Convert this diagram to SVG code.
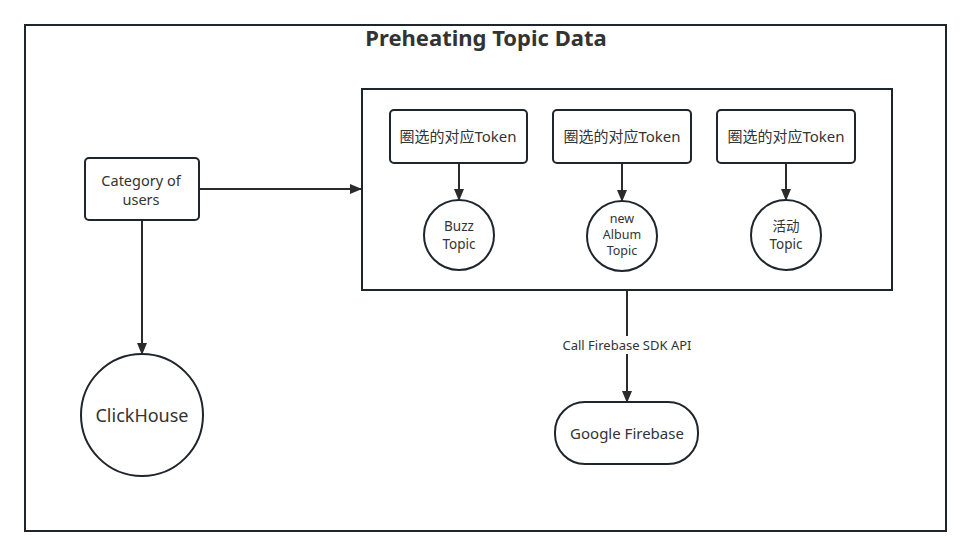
<svg xmlns="http://www.w3.org/2000/svg" width="971" height="557" viewBox="0 0 971 557">
<defs>
<style>
.box{fill:#fff;stroke:#1e252b;stroke-width:2}
.ln{fill:none;stroke:#2b2b2b;stroke-width:2}
.t{font-family:"Noto Sans","Noto Sans CJK SC",sans-serif;fill:#333;text-anchor:middle}
</style>
<marker id="arr" viewBox="0 0 12 12" refX="11" refY="6" markerWidth="12" markerHeight="12" markerUnits="userSpaceOnUse" orient="auto">
<path d="M0,1 L12,6 L0,11 Z" fill="#2b2b2b"/>
</marker>
</defs>
<rect width="971" height="557" fill="#fff"/>
<g id="frame">
<rect x="25" y="25" width="921" height="506" fill="none" stroke="#1e252b" stroke-width="2"/>
<text class="t" x="486" y="46" font-size="22" font-weight="bold" fill="#333">Preheating Topic Data</text>
</g>
<g id="topics-group">
<rect class="box" x="362" y="89" width="530" height="201"/>
</g>
<g id="connectors">
<line class="ln" x1="199" y1="189" x2="361" y2="189" marker-end="url(#arr)"/>
<line class="ln" x1="142" y1="220" x2="142" y2="354" marker-end="url(#arr)"/>
<line class="ln" x1="459" y1="163" x2="459" y2="200" marker-end="url(#arr)"/>
<line class="ln" x1="622" y1="163" x2="622" y2="201" marker-end="url(#arr)"/>
<line class="ln" x1="786" y1="163" x2="786" y2="200" marker-end="url(#arr)"/>
<line class="ln" x1="627" y1="290" x2="627" y2="402" marker-end="url(#arr)"/>
<rect x="558" y="336" width="138" height="18" fill="#fff"/>
<text class="t" x="627" y="350" font-size="13">Call Firebase SDK API</text>
</g>
<g id="category">
<rect class="box" x="85" y="158" width="114" height="62" rx="4"/>
<text class="t" x="141" y="186" font-size="14.5">Category of</text>
<text class="t" x="141" y="205" font-size="14.5">users</text>
</g>
<g id="clickhouse">
<circle class="box" cx="142" cy="415" r="61"/>
<text class="t" x="142" y="422" font-size="18">ClickHouse</text>
</g>
<g id="token1">
<rect class="box" x="390" y="110" width="137" height="53" rx="4"/>
<text class="t" x="458" y="142" font-size="15">圈选的对应Token</text>
</g>
<g id="token2">
<rect class="box" x="553" y="110" width="138" height="53" rx="4"/>
<text class="t" x="622" y="142" font-size="15">圈选的对应Token</text>
</g>
<g id="token3">
<rect class="box" x="717" y="110" width="138" height="53" rx="4"/>
<text class="t" x="786" y="142" font-size="15">圈选的对应Token</text>
</g>
<g id="buzz">
<circle class="box" cx="459" cy="235" r="35"/>
<text class="t" x="459" y="231" font-size="13.5">Buzz</text>
<text class="t" x="459" y="249" font-size="13.5">Topic</text>
</g>
<g id="album">
<circle class="box" cx="622" cy="236" r="35"/>
<text class="t" x="622" y="223" font-size="12.5">new</text>
<text class="t" x="622" y="239" font-size="12.5">Album</text>
<text class="t" x="622" y="255" font-size="12.5">Topic</text>
</g>
<g id="activity">
<circle class="box" cx="786" cy="235" r="35"/>
<text class="t" x="786" y="231" font-size="13.5">活动</text>
<text class="t" x="786" y="249" font-size="13.5">Topic</text>
</g>
<g id="firebase">
<rect class="box" x="555" y="402" width="143" height="62" rx="30"/>
<text class="t" x="627" y="439" font-size="15">Google Firebase</text>
</g>
</svg>
